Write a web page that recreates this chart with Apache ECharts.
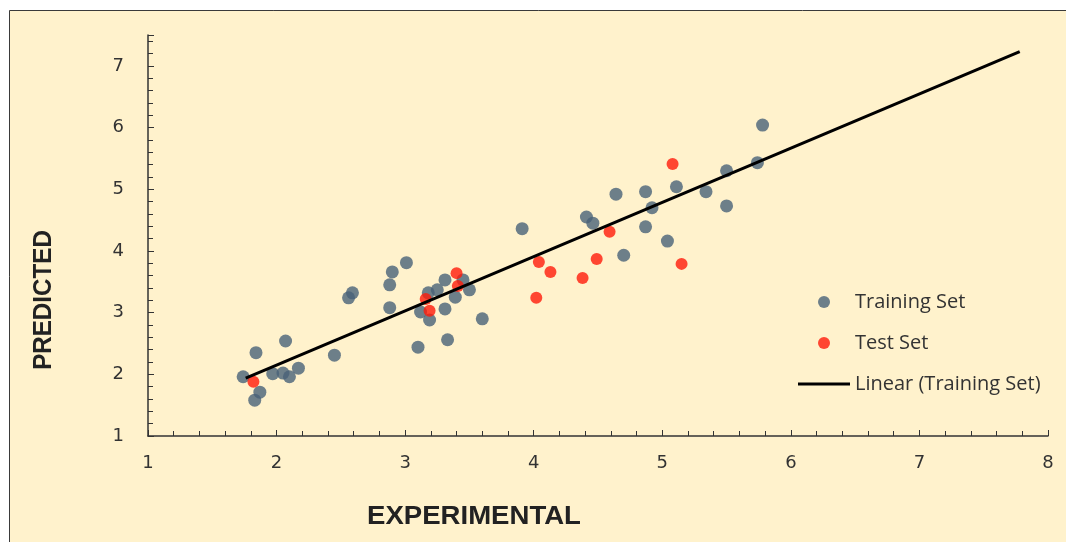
<!DOCTYPE html>
<html>
<head>
<meta charset="utf-8">
<script src="https://cdn.jsdelivr.net/npm/echarts@6/dist/echarts.min.js"></script>
<style>
  html, body { margin: 0; padding: 0; background: #ffffff; }
  #main { width: 1066px; height: 542px; }
</style>
</head>
<body>
<div id="main"></div>
<script>
// values
const trainX = [1.74, 1.84, 2.07, 1.83, 1.87, 1.97, 2.05, 2.10, 2.17, 2.45,
  2.59, 2.56, 2.88, 2.88, 2.90, 3.01, 3.10, 3.33, 3.12, 3.19, 3.18, 3.25, 3.31, 3.31, 3.39, 3.45, 3.50, 3.60,
  3.91, 4.41, 4.46, 4.87, 5.04, 4.70, 4.92, 4.64, 4.87, 5.11, 5.50, 5.34, 5.50, 5.74, 5.78];
const trainY = [1.96, 2.35, 2.54, 1.58, 1.71, 2.01, 2.02, 1.96, 2.10, 2.31,
  3.32, 3.24, 3.08, 3.45, 3.66, 3.81, 2.44, 2.56, 3.01, 2.88, 3.32, 3.37, 3.53, 3.06, 3.25, 3.53, 3.37, 2.90,
  4.36, 4.55, 4.45, 4.39, 4.16, 3.93, 4.70, 4.92, 4.96, 5.04, 5.30, 4.96, 4.73, 5.43, 6.04];

const testX = [1.82, 3.40, 3.41, 3.16, 3.19, 4.04, 4.13, 4.02, 4.38, 4.49, 4.59, 5.15, 5.08];
const testY = [1.88, 3.64, 3.43, 3.22, 3.03, 3.82, 3.66, 3.24, 3.56, 3.87, 4.31, 3.79, 5.41];

// trendline end points
const trendX = [1.76, 7.78];
const trendY = [1.94, 7.23];

const zip = (xs, ys) => xs.map((x, i) => [x, ys[i]]);

const chart = echarts.init(document.getElementById('main'));

const axisText = { color: '#333', fontFamily: 'DejaVu Sans', fontSize: 18 };

const option = {
  animation: false,
  graphic: [
    {
      type: 'rect', z: -10,
      shape: { x: 9.5, y: 10.5, width: 1100, height: 600 },
      style: { fill: '#FFF2CC', stroke: '#3a3a3a', lineWidth: 1 }
    },
    {
      type: 'text', x: 44, y: 300, rotation: Math.PI / 2, scaleX: 0.93,
      style: {
        text: 'PREDICTED', fill: '#222', font: 'bold 26px "Liberation Sans"',
        align: 'center', verticalAlign: 'middle'
      }
    },
    {
      type: 'text', x: 474, y: 517, scaleX: 1.06,
      style: {
        text: 'EXPERIMENTAL', fill: '#222', font: 'bold 26px "Liberation Sans"',
        align: 'center', verticalAlign: 'middle'
      }
    }
  ],
  grid: { left: 148, right: 18, top: 35, bottom: 106 },
  legend: {
    orient: 'vertical',
    left: 793,
    top: 287,
    itemWidth: 52,
    itemHeight: 12,
    itemGap: 21,
    textStyle: { color: '#333', fontFamily: 'Open Sans', fontSize: 20 },
    data: [
      'Training Set',
      'Test Set',
      { name: 'Linear (Training Set)', icon: 'path://M0,0L52,0L52,3L0,3Z' }
    ]
  },
  xAxis: {
    type: 'value', min: 1, max: 8, interval: 1,
    axisLine: { lineStyle: { color: '#333', width: 1.5 } },
    axisTick: { show: true, inside: true, length: 6, lineStyle: { color: '#333' } },
    minorTick: { show: true, splitNumber: 5, length: 5, lineStyle: { color: '#333' } },
    splitLine: { show: false },
    axisLabel: Object.assign({ margin: 18 }, axisText)
  },
  yAxis: {
    type: 'value', min: 1, max: 7.5, interval: 1,
    axisLine: { show: true, lineStyle: { color: '#333', width: 1.5 } },
    axisTick: { show: true, inside: true, length: 6, lineStyle: { color: '#333' } },
    minorTick: { show: true, splitNumber: 5, length: 5, lineStyle: { color: '#333' } },
    splitLine: { show: false },
    axisLabel: Object.assign({
      margin: 24,
      formatter: v => (Number.isInteger(v) ? String(v) : '')
    }, axisText)
  },
  series: [
    {
      name: 'Training Set',
      type: 'scatter',
      symbolSize: 13,
      itemStyle: { color: '#486178' },
      data: zip(trainX, trainY),
      z: 2
    },
    {
      name: 'Test Set',
      type: 'scatter',
      symbolSize: 12,
      itemStyle: { color: '#FF1A0A' },
      data: zip(testX, testY),
      z: 3
    },
    {
      name: 'Linear (Training Set)',
      type: 'line',
      symbol: 'none',
      itemStyle: { color: '#000' },
      lineStyle: { color: '#000', width: 3 },
      data: zip(trendX, trendY),
      z: 4
    }
  ]
};

chart.setOption(option);
</script>
</body>
</html>
